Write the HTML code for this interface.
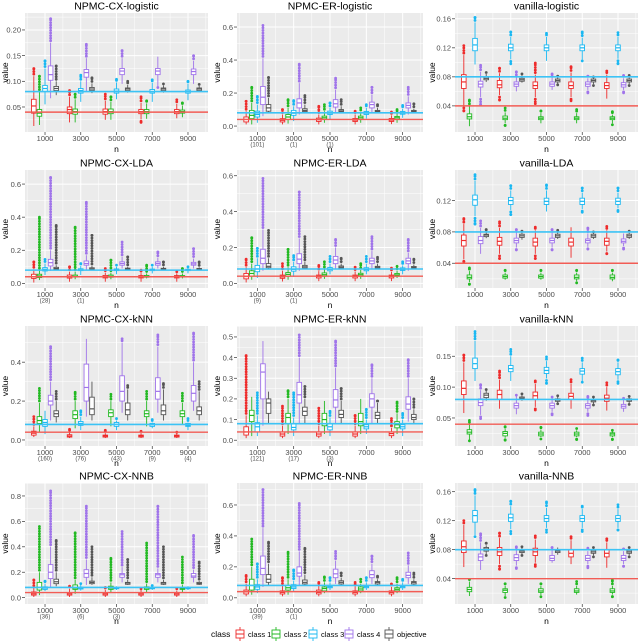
<!DOCTYPE html>
<html><head><meta charset="utf-8">
<style>
html,body{margin:0;padding:0;background:#fff;}
svg{display:block;font-family:"Liberation Sans",sans-serif;}
</style></head>
<body>
<svg id="chart" width="640" height="641" viewBox="0 0 640 641"></svg>
<script>
const categories = [1000,3000,5000,7000,9000];
const classNames = ["class 1","class 2","class 3","class 4","objective"];
const classColors = ["#ee2b2b","#22b922","#1ab8f2","#a074ea","#555555"];
const panelTitles = ["NPMC-CX-logistic","NPMC-ER-logistic","vanilla-logistic","NPMC-CX-LDA","NPMC-ER-LDA","vanilla-LDA","NPMC-CX-kNN","NPMC-ER-kNN","vanilla-kNN","NPMC-CX-NNB","NPMC-ER-NNB","vanilla-NNB"];
const panelYDomain = [[0.0013,0.233],[-0.036,0.685],[0.004,0.168],[-0.028,0.685],[-0.026,0.632],[0.0084,0.159],[-0.031,0.586],[-0.028,0.553],[0.0046,0.199],[-0.05,0.902],[-0.04,0.742],[0.005,0.172]];
const panelYTicks = [[0.05,0.10,0.15,0.20],[0,0.2,0.4,0.6],[0.04,0.08,0.12,0.16],[0,0.2,0.4,0.6],[0,0.2,0.4,0.6],[0.04,0.08,0.12],[0,0.2,0.4],[0,0.1,0.2,0.3,0.4,0.5],[0.05,0.10,0.15],[0,0.2,0.4,0.6,0.8],[0,0.2,0.4,0.6],[0.04,0.08,0.12,0.16]];
const panelTickLabels = [["0.05","0.10","0.15","0.20"],["0.0","0.2","0.4","0.6"],["0.04","0.08","0.12","0.16"],["0.0","0.2","0.4","0.6"],["0.0","0.2","0.4","0.6"],["0.04","0.08","0.12"],["0.0","0.2","0.4"],["0.0","0.1","0.2","0.3","0.4","0.5"],["0.05","0.10","0.15"],["0.0","0.2","0.4","0.6","0.8"],["0.0","0.2","0.4","0.6"],["0.04","0.08","0.12","0.16"]];
const panelCounts = [["","","","",""],["(101)","(1)","(1)","",""],["","","","",""],["(28)","(1)","","",""],["(9)","(1)","","",""],["","","","",""],["(160)","(76)","(43)","(9)","(4)"],["(121)","(17)","(3)","",""],["","","","",""],["(36)","(6)","(3)","",""],["(39)","(1)","","",""],["","","","",""]];
const refLines = [0.04,0.08];
// stats per class per n: [whiskerLow, q1, median, q3, whiskerHigh, outlierMax, outlierMin]
const statsCxLogistic = [
[[.013,.038,.052,.065,.11,.125,.013],[.02,.037,.045,.05,.07,.082,.02],[.025,.036,.041,.046,.062,.075,.025],[.026,.037,.041,.045,.058,.07,.02],[.028,.037,.041,.045,.056,.064,.028]],
[[.015,.032,.038,.045,.08,.11,.015],[.02,.036,.041,.046,.065,.075,.02],[.025,.037,.041,.046,.06,.07,.025],[.027,.037,.041,.045,.057,.062,.027],[.03,.038,.041,.044,.053,.058,.03]],
[[.055,.08,.086,.092,.125,.14,.055],[.06,.077,.082,.086,.1,.112,.06],[.065,.077,.081,.085,.098,.104,.065],[.06,.077,.08,.084,.097,.103,.06],[.063,.077,.08,.083,.095,.1,.063]],
[[.067,.102,.113,.13,.175,.222,.067],[.08,.108,.117,.123,.145,.172,.08],[.095,.113,.12,.125,.145,.16,.095],[.09,.113,.12,.125,.148,.148,.088],[.095,.113,.119,.124,.14,.15,.095]],
[[.073,.082,.086,.09,.1,.13,.073],[.077,.082,.085,.088,.096,.107,.077],[.078,.082,.085,.087,.093,.1,.078],[.078,.082,.085,.087,.092,.095,.078],[.079,.082,.085,.087,.091,.094,.079]]];
const statsErLogistic = [
[[.01,.025,.04,.055,.09,.15,.01],[.01,.025,.035,.045,.07,.1,.01],[.01,.028,.038,.048,.07,.12,.01],[.01,.028,.036,.046,.07,.09,.01],[.012,.028,.036,.046,.065,.085,.012]],
[[.01,.045,.065,.095,.14,.235,.01],[.015,.04,.055,.07,.11,.16,.015],[.02,.04,.05,.06,.09,.13,.02],[.02,.04,.05,.06,.085,.11,.02],[.02,.04,.05,.058,.08,.1,.02]],
[[.02,.055,.07,.09,.13,.18,.02],[.03,.065,.078,.095,.12,.155,.03],[.04,.07,.078,.09,.11,.14,.04],[.045,.07,.078,.088,.11,.13,.045],[.05,.072,.078,.088,.105,.125,.05]],
[[.06,.13,.175,.24,.41,.61,.06],[.07,.11,.14,.165,.26,.375,.07],[.08,.115,.135,.16,.22,.29,.08],[.08,.11,.13,.145,.19,.235,.08],[.07,.11,.125,.14,.18,.235,.07]],
[[.08,.09,.11,.13,.17,.295,.08],[.08,.088,.095,.105,.13,.185,.08],[.08,.088,.092,.1,.12,.16,.08],[.08,.087,.09,.095,.11,.13,.08],[.08,.086,.09,.095,.105,.135,.08]]];
const statsVanLogistic = [
[[.04,.064,.073,.083,.11,.123,.033],[.055,.065,.069,.075,.085,.092,.048],[.052,.064,.068,.073,.083,.099,.043],[.052,.064,.068,.073,.086,.094,.047],[.05,.064,.068,.072,.083,.088,.05]],
[[.012,.022,.025,.029,.04,.048,.012],[.016,.021,.023,.026,.031,.037,.013],[.016,.021,.023,.025,.03,.033,.016],[.016,.021,.023,.025,.03,.035,.016],[.016,.021,.023,.025,.028,.032,.014]],
[[.097,.116,.124,.133,.155,.162,.097],[.104,.116,.12,.125,.135,.142,.098],[.102,.116,.12,.124,.135,.14,.102],[.104,.116,.12,.124,.134,.142,.102],[.105,.116,.12,.124,.135,.141,.098]],
[[.052,.066,.07,.074,.087,.096,.042],[.06,.067,.07,.073,.08,.087,.06],[.062,.067,.07,.073,.08,.084,.062],[.062,.067,.07,.073,.078,.081,.058],[.062,.066,.069,.072,.078,.082,.058]],
[[.073,.076,.078,.08,.084,.086,.073],[.072,.074,.076,.078,.082,.084,.072],[.07,.073,.075,.077,.08,.081,.069],[.07,.073,.075,.077,.079,.08,.068],[.07,.073,.075,.077,.08,.082,.068]]];
const statsCxLda = [
[[.005,.03,.04,.055,.085,.13,.005],[.01,.032,.04,.05,.07,.1,.01],[.01,.033,.04,.048,.065,.09,.01],[.01,.033,.04,.047,.062,.08,.01],[.01,.033,.04,.047,.06,.07,.01]],
[[.02,.035,.045,.055,.08,.4,.02],[.025,.038,.042,.05,.07,.34,.025],[.025,.037,.042,.05,.065,.14,.025],[.03,.037,.042,.048,.06,.11,.03],[.03,.038,.042,.047,.06,.09,.03]],
[[.05,.075,.085,.095,.12,.145,.05],[.05,.077,.082,.088,.105,.12,.05],[.055,.077,.082,.087,.1,.11,.055],[.06,.077,.081,.086,.1,.11,.06],[.06,.077,.08,.085,.095,.1,.06]],
[[.075,.105,.125,.145,.2,.64,.075],[.08,.11,.12,.135,.17,.49,.08],[.09,.11,.12,.13,.16,.25,.09],[.09,.11,.12,.13,.155,.19,.09],[.09,.11,.118,.127,.15,.21,.09]],
[[.08,.085,.09,.097,.11,.35,.08],[.08,.085,.088,.094,.105,.29,.08],[.08,.085,.088,.092,.1,.16,.08],[.08,.085,.087,.091,.1,.13,.08],[.08,.085,.087,.09,.097,.13,.08]]];
const statsErLda = [
[[.005,.025,.038,.055,.09,.135,.005],[.01,.028,.036,.046,.07,.11,.01],[.012,.03,.038,.046,.068,.1,.012],[.012,.03,.038,.046,.066,.09,.012],[.012,.03,.038,.046,.064,.085,.012]],
[[.02,.04,.055,.07,.11,.255,.02],[.02,.04,.05,.06,.09,.19,.02],[.025,.04,.048,.058,.08,.12,.025],[.025,.04,.048,.056,.075,.11,.025],[.03,.04,.047,.055,.07,.095,.03]],
[[.03,.065,.08,.1,.14,.195,.03],[.035,.068,.078,.092,.12,.155,.035],[.05,.07,.078,.088,.11,.15,.05],[.05,.07,.077,.087,.11,.15,.05],[.05,.072,.078,.086,.1,.12,.05]],
[[.07,.11,.14,.19,.3,.585,.07],[.07,.11,.135,.165,.25,.51,.07],[.08,.11,.13,.15,.2,.245,.08],[.08,.11,.125,.14,.18,.26,.08],[.07,.11,.125,.14,.17,.245,.07]],
[[.08,.087,.095,.11,.14,.295,.08],[.08,.085,.092,.1,.12,.26,.08],[.08,.085,.09,.097,.11,.14,.08],[.08,.085,.09,.095,.11,.145,.08],[.08,.085,.088,.094,.105,.135,.08]]];
const statsVanLda = [
[[.045,.062,.069,.076,.09,.097,.042],[.052,.063,.068,.073,.085,.093,.046],[.052,.062,.067,.072,.082,.086,.046],[.047,.062,.067,.072,.086,.086,.047],[.055,.063,.068,.072,.082,.087,.052]],
[[.016,.02,.022,.025,.03,.034,.013],[.019,.021,.023,.025,.028,.031,.019],[.019,.021,.023,.025,.028,.031,.019],[.017,.02,.022,.025,.028,.031,.015],[.017,.02,.022,.025,.028,.031,.017]],
[[.1,.114,.121,.127,.145,.153,.09],[.108,.115,.12,.124,.133,.139,.102],[.106,.115,.119,.123,.133,.14,.106],[.109,.115,.119,.123,.13,.136,.105],[.11,.115,.119,.123,.13,.136,.106]],
[[.052,.065,.069,.074,.085,.094,.052],[.06,.066,.069,.072,.08,.083,.057],[.06,.066,.069,.072,.08,.083,.057],[.061,.066,.069,.071,.078,.085,.058],[.062,.066,.068,.071,.078,.078,.058]],
[[.072,.074,.076,.077,.08,.083,.072],[.07,.073,.075,.077,.08,.081,.07],[.071,.073,.075,.077,.08,.082,.071],[.071,.073,.075,.077,.079,.08,.071],[.071,.073,.075,.077,.079,.081,.071]]];
const statsCxKnn = [
[[.015,.025,.035,.045,.07,.12,.015],[.01,.015,.02,.027,.04,.055,.01],[.01,.015,.02,.025,.035,.05,.01],[.01,.015,.02,.025,.035,.045,.01],[.01,.015,.02,.025,.033,.04,.01]],
[[.04,.085,.1,.12,.19,.265,.04],[.06,.11,.13,.15,.2,.245,.06],[.07,.12,.14,.155,.2,.235,.07],[.07,.12,.135,.15,.2,.25,.07],[.08,.12,.135,.15,.19,.24,.08]],
[[.03,.07,.09,.105,.15,.15,.03],[.05,.075,.085,.095,.12,.15,.05],[.05,.07,.08,.09,.1,.11,.05],[.06,.07,.078,.085,.09,.105,.06],[.05,.07,.075,.085,.09,.11,.05]],
[[.1,.18,.2,.23,.3,.48,.1],[.12,.2,.27,.39,.52,.52,.12],[.14,.2,.25,.33,.5,.52,.14],[.14,.21,.25,.32,.48,.54,.14],[.15,.2,.24,.28,.4,.55,.15]],
[[.09,.12,.135,.15,.2,.25,.09],[.1,.13,.16,.22,.3,.3,.1],[.1,.13,.155,.19,.26,.28,.1],[.1,.13,.15,.18,.26,.29,.1],[.1,.13,.15,.17,.25,.3,.1]]];
const statsErKnn = [
[[.01,.025,.04,.065,.12,.41,.01],[.01,.02,.03,.04,.07,.165,.01],[.01,.02,.03,.04,.07,.155,.01],[.01,.02,.03,.04,.07,.12,.01],[.01,.022,.032,.04,.06,.105,.01]],
[[.02,.09,.12,.145,.21,.21,.02],[.03,.08,.11,.13,.2,.24,.03],[.03,.07,.1,.13,.19,.19,.03],[.03,.07,.09,.13,.2,.2,.03],[.03,.06,.075,.09,.13,.185,.03]],
[[.02,.04,.065,.085,.12,.23,.02],[.02,.05,.062,.08,.11,.23,.02],[.02,.05,.065,.08,.11,.14,.02],[.03,.055,.065,.075,.1,.15,.03],[.02,.055,.065,.075,.1,.13,.02]],
[[.07,.2,.33,.37,.48,.48,.07],[.08,.18,.22,.28,.4,.51,.08],[.08,.16,.195,.245,.35,.48,.08],[.08,.16,.2,.225,.3,.365,.08],[.09,.15,.175,.21,.3,.39,.09]],
[[.08,.13,.18,.2,.235,.235,.08],[.08,.12,.14,.16,.2,.26,.08],[.08,.11,.125,.145,.19,.25,.08],[.08,.105,.12,.135,.18,.19,.08],[.08,.1,.11,.125,.15,.2,.08]]];
const statsVanKnn = [
[[.058,.088,.098,.11,.14,.152,.058],[.065,.08,.088,.095,.112,.126,.065],[.068,.08,.086,.092,.105,.11,.063],[.065,.08,.085,.09,.105,.112,.065],[.062,.077,.082,.087,.1,.107,.062]],
[[.015,.024,.027,.031,.04,.046,.013],[.018,.021,.025,.028,.032,.036,.014],[.019,.021,.024,.027,.031,.035,.016],[.019,.021,.024,.027,.03,.033,.015],[.019,.021,.024,.026,.028,.03,.015]],
[[.11,.13,.138,.147,.175,.19,.11],[.11,.125,.13,.135,.15,.161,.11],[.114,.122,.127,.132,.142,.149,.106],[.11,.121,.126,.13,.14,.147,.108],[.112,.12,.125,.13,.14,.144,.106]],
[[.055,.07,.075,.081,.095,.104,.049],[.056,.066,.07,.074,.085,.087,.056],[.06,.066,.07,.074,.082,.084,.055],[.06,.066,.07,.073,.08,.085,.054],[.06,.066,.069,.072,.08,.082,.06]],
[[.078,.083,.087,.09,.094,.096,.078],[.078,.081,.082,.084,.087,.089,.078],[.074,.077,.079,.081,.084,.086,.073],[.072,.076,.078,.08,.083,.084,.071],[.074,.077,.079,.081,.083,.085,.072]]];
const statsCxNnb = [
[[.005,.02,.03,.045,.08,.14,.005],[.005,.02,.03,.04,.07,.09,.005],[.005,.02,.03,.04,.06,.08,.005],[.005,.02,.03,.04,.06,.07,.005],[.005,.02,.03,.04,.055,.07,.005]],
[[.02,.06,.08,.12,.2,.56,.02],[.03,.065,.075,.1,.14,.51,.03],[.04,.065,.075,.09,.12,.31,.04],[.04,.065,.075,.085,.11,.43,.04],[.045,.065,.072,.08,.1,.32,.045]],
[[.05,.065,.075,.085,.11,.13,.05],[.055,.068,.075,.082,.1,.11,.055],[.06,.07,.075,.08,.09,.09,.06],[.06,.07,.075,.08,.09,.095,.06],[.06,.07,.075,.08,.09,.09,.06]],
[[.08,.15,.2,.26,.4,.84,.08],[.1,.16,.19,.22,.3,.72,.1],[.12,.16,.18,.19,.24,.52,.12],[.12,.16,.18,.19,.23,.72,.12],[.12,.16,.17,.19,.22,.49,.12]],
[[.09,.11,.125,.145,.2,.45,.09],[.1,.11,.12,.13,.16,.4,.1],[.1,.105,.115,.12,.14,.3,.1],[.1,.105,.115,.12,.14,.4,.1],[.1,.105,.112,.12,.13,.28,.1]]];
const statsErNnb = [
[[.01,.025,.038,.05,.09,.145,.01],[.01,.025,.035,.045,.08,.13,.01],[.01,.025,.035,.05,.08,.1,.01],[.01,.025,.035,.045,.075,.1,.01],[.01,.025,.035,.045,.07,.09,.01]],
[[.02,.05,.08,.12,.2,.38,.02],[.02,.05,.065,.08,.12,.295,.02],[.03,.045,.06,.07,.1,.135,.03],[.03,.045,.057,.07,.09,.12,.03],[.03,.045,.055,.065,.09,.13,.03]],
[[.03,.055,.07,.085,.12,.22,.03],[.04,.06,.07,.085,.11,.18,.04],[.05,.065,.072,.08,.1,.13,.05],[.05,.065,.072,.08,.1,.13,.05],[.05,.065,.072,.08,.1,.12,.05]],
[[.07,.15,.19,.27,.45,.7,.07],[.08,.14,.16,.2,.3,.61,.08],[.09,.13,.155,.185,.24,.3,.09],[.09,.13,.15,.175,.22,.27,.09],[.09,.13,.145,.165,.21,.29,.09]],
[[.08,.1,.12,.15,.22,.36,.08],[.08,.09,.1,.115,.15,.32,.08],[.08,.09,.1,.11,.13,.16,.08],[.08,.09,.1,.105,.12,.14,.08],[.08,.09,.1,.105,.12,.16,.08]]];
const statsVanNnb = [
[[.056,.076,.084,.092,.114,.12,.056],[.06,.072,.077,.083,.096,.103,.053],[.062,.072,.077,.082,.094,.099,.057],[.06,.07,.075,.08,.093,.098,.06],[.055,.07,.075,.08,.09,.095,.055]],
[[.016,.022,.025,.028,.036,.039,.016],[.016,.021,.024,.026,.03,.033,.014],[.017,.021,.023,.026,.03,.033,.015],[.018,.021,.023,.026,.03,.036,.018],[.018,.021,.023,.026,.03,.038,.015]],
[[.1,.118,.127,.134,.155,.163,.098],[.108,.119,.124,.129,.14,.147,.102],[.11,.119,.123,.127,.138,.146,.104],[.11,.119,.123,.127,.136,.14,.105],[.11,.119,.123,.127,.136,.142,.107]],
[[.052,.065,.07,.074,.09,.102,.052],[.058,.065,.069,.073,.08,.084,.054],[.062,.065,.068,.072,.08,.083,.062],[.06,.065,.068,.072,.078,.082,.055],[.06,.065,.068,.072,.078,.081,.057]],
[[.073,.078,.081,.083,.086,.089,.072],[.073,.076,.078,.08,.083,.084,.072],[.073,.076,.078,.08,.083,.083,.073],[.072,.075,.077,.079,.082,.083,.07],[.072,.075,.077,.079,.082,.083,.07]]];
const panelStats = [statsCxLogistic,statsErLogistic,statsVanLogistic,statsCxLda,statsErLda,statsVanLda,statsCxKnn,statsErKnn,statsVanKnn,statsCxNnb,statsErNnb,statsVanNnb];

const NS = "http://www.w3.org/2000/svg";
const svg = document.getElementById("chart");
function mk(tag, attrs, parent){
  const e = document.createElementNS(NS, tag);
  for (const k in attrs) e.setAttribute(k, attrs[k]);
  (parent||svg).appendChild(e);
  return e;
}
const colX0=[25,237,455], colX1=[208,423,638];
const rowY0=[13,170,326,483], rowY1=[132,288,446,604];
const axisTitleX=[8,220,435];

panelTitles.forEach((title, p) => {
  const c = p % 3, r = Math.floor(p / 3);
  const x0 = colX0[c], x1 = colX1[c], y0 = rowY0[r], y1 = rowY1[r];
  const dom = panelYDomain[p];
  const ys = v => y1 - (v - dom[0]) / (dom[1] - dom[0]) * (y1 - y0);
  const xs = n => x0 + (n + 120) / 10240 * (x1 - x0);
  const g = mk("g", {});
  
  
  const bg = mk("rect", {x:x0, y:y0, width:x1-x0, height:y1-y0, fill:"#ebebeb"}, g);
  
  
  const ticks = panelYTicks[p];
  const step = ticks[1] - ticks[0];
  for (let v = ticks[0] - step/2; v <= dom[1]; v += step) {
    if (v >= dom[0]) mk("line", {x1:x0, x2:x1, y1:ys(v), y2:ys(v), stroke:"#fff", "stroke-width":0.5}, g);
  }
  for (let n = 0; n <= 10000; n += 2000) {
    mk("line", {x1:xs(n), x2:xs(n), y1:y0, y2:y1, stroke:"#fff", "stroke-width":0.5}, g);
  }
  ticks.forEach((v, i) => {
    mk("line", {x1:x0, x2:x1, y1:ys(v), y2:ys(v), stroke:"#fff", "stroke-width":1}, g);
    mk("line", {x1:x0-3, x2:x0, y1:ys(v), y2:ys(v), stroke:"#333", "stroke-width":0.7}, g);
    const t = mk("text", {x:x0-4, y:ys(v)+2.8, "text-anchor":"end", "font-size":7.5, fill:"#4d4d4d"}, g);
    t.textContent = panelTickLabels[p][i];
    
    
  });
  categories.forEach((n, i) => {
    mk("line", {x1:xs(n), x2:xs(n), y1:y0, y2:y1, stroke:"#fff", "stroke-width":1}, g);
    mk("line", {x1:xs(n), x2:xs(n), y1:y1, y2:y1+3, stroke:"#333", "stroke-width":0.7}, g);
    const t = mk("text", {x:xs(n), y:y1+9, "text-anchor":"middle", "font-size":7.5, fill:"#4d4d4d"}, g);
    t.textContent = String(n);
    
    
    if (panelCounts[p][i]) {
      const t2 = mk("text", {x:xs(n), y:y1+14.5, "text-anchor":"middle", "font-size":6, fill:"#4d4d4d"}, g);
      t2.textContent = panelCounts[p][i];
      
      
    }
  });
  const stats = panelStats[p];
  stats.forEach((cls, k) => {
    const col = classColors[k];
    cls.forEach((s, i) => {
      const cx = xs(categories[i]) + (k - 2) * 5.6;
      const hw = 2.3;
      const bx = mk("g", {}, g);
      
      
      const ptsTop = ys(s[4]), ptsMax = ys(s[5]);
      for (let yy = ptsTop - 2; yy >= ptsMax - 0.01; yy -= 2.6) mk("circle", {cx:cx, cy:yy, r:1.4, fill:col}, bx);
      if (s[5] > s[4]) mk("circle", {cx:cx, cy:ptsMax, r:1.4, fill:col}, bx);
      if (s[6] < s[0]) {
        for (let yy = ys(s[0]) + 2; yy <= ys(s[6]); yy += 2.6) mk("circle", {cx:cx, cy:yy, r:1.4, fill:col}, bx);
        mk("circle", {cx:cx, cy:ys(s[6]), r:1.4, fill:col}, bx);
      }
      mk("line", {x1:cx, x2:cx, y1:ys(s[0]), y2:ys(s[4]), stroke:col, "stroke-width":0.9}, bx);
      mk("rect", {x:cx-hw, y:ys(s[3]), width:hw*2, height:Math.max(0.8, ys(s[1])-ys(s[3])), fill:"#fff", stroke:col, "stroke-width":0.9}, bx);
      mk("line", {x1:cx-hw, x2:cx+hw, y1:ys(s[2]), y2:ys(s[2]), stroke:col, "stroke-width":1.2}, bx);
    });
  });
  const rl1 = mk("line", {x1:x0, x2:x1, y1:ys(refLines[0]), y2:ys(refLines[0]), stroke:"#f25c55", "stroke-width":1.4}, g);
  
  
  const rl2 = mk("line", {x1:x0, x2:x1, y1:ys(refLines[1]), y2:ys(refLines[1]), stroke:"#3cc3f5", "stroke-width":1.6}, g);
  
  
  const tt = mk("text", {x:(x0+x1)/2, y:y0-3.5, "text-anchor":"middle", "font-size":10.5, fill:"#000"}, g);
  tt.textContent = title;
  
  
  const xt = mk("text", {x:(x0+x1)/2, y:y1+20, "text-anchor":"middle", "font-size":8.5, fill:"#000"}, g);
  xt.textContent = "n";
  
  
  const yt = mk("text", {x:0, y:0, "text-anchor":"middle", "font-size":8.5, fill:"#000", transform:`translate(${axisTitleX[c]},${(y0+y1)/2}) rotate(-90)`}, g);
  yt.textContent = "value";
  
  
});

const lg = mk("g", {});


const lt = mk("text", {x:211, y:637, "font-size":8.5, fill:"#000"}, lg);
lt.textContent = "class";


const legendKeyX = [240, 276, 313, 349, 389];
classNames.forEach((nm, k) => {
  const e = mk("g", {}, lg);
  
  
  const kx = legendKeyX[k];
  mk("line", {x1:kx, x2:kx, y1:627, y2:641, stroke:classColors[k], "stroke-width":0.9}, e);
  mk("rect", {x:kx-4, y:630, width:8, height:8, fill:"#fff", stroke:classColors[k], "stroke-width":0.9}, e);
  mk("line", {x1:kx-4, x2:kx+4, y1:634, y2:634, stroke:classColors[k], "stroke-width":1}, e);
  const t = mk("text", {x:kx+8, y:637, "font-size":7.5, fill:"#000"}, e);
  t.textContent = nm;
});
</script>
</body></html>
